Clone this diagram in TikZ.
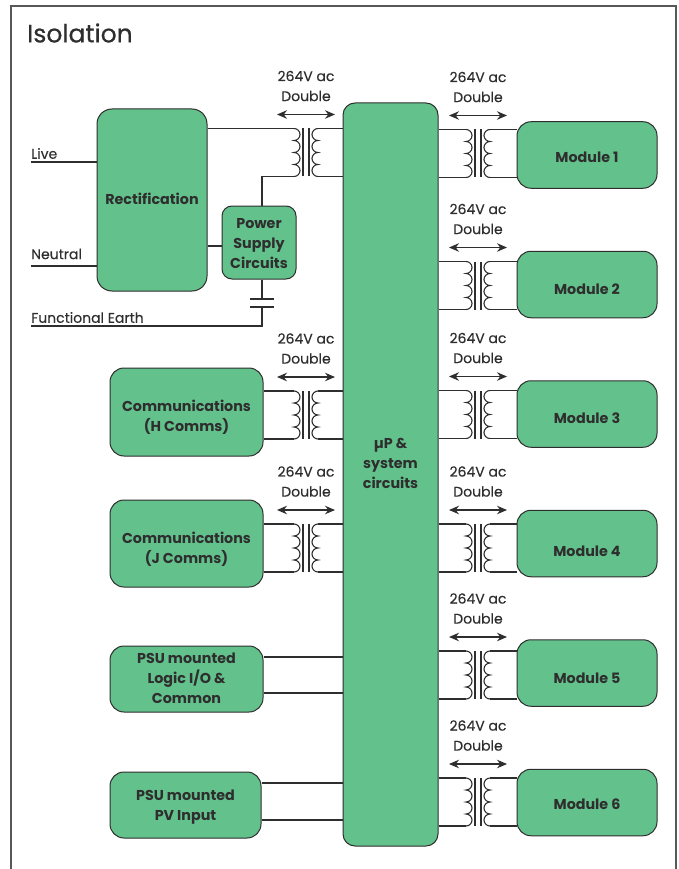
\documentclass[tikz,border=0pt]{standalone}
\usepackage{fontspec}
\setmainfont{Poppins}
\newfontfamily\thickfont[FakeBold=0.25]{Poppins}
\newfontfamily\titlefont[FakeBold=0.6]{Poppins}
\usetikzlibrary{arrows.meta}
\definecolor{boxgreen}{HTML}{63C18C}
\definecolor{wire}{HTML}{2E2E2E}
\tikzset{
  block/.style={draw=wire, fill=boxgreen, line width=1pt, inner sep=0pt},
  txt/.style={font=\fontsize{14.3}{20}\selectfont\bfseries, text=wire, inner sep=0pt, align=center},
  lbl/.style={font=\fontsize{14}{20}\thickfont, text=wire, inner sep=0pt, align=center},
  conn/.style={draw=wire, line width=1.1pt},
  xfmr/.pic={
    \coordinate (-nw) at (-12,-24);
    \coordinate (-sw) at (-12,24);
    \coordinate (-ne) at (12,-24);
    \coordinate (-se) at (12,24);
    \draw[conn] (-nw) arc (-90:90:6) arc (-90:90:6) arc (-90:90:6) arc (-90:90:6);
    \draw[conn] (-ne) arc (270:90:6) arc (270:90:6) arc (270:90:6) arc (270:90:6);
    \draw[conn] (-3,-24) -- (-3,24);
    \draw[conn] (3,-24) -- (3,24);
    \draw[conn, {Stealth[length=10pt,width=8.5pt]}-{Stealth[length=10pt,width=8.5pt]}] (-29,-38) -- (29,-38);
    \node[lbl] (-volt) at (0,-76.5) {264V ac};
    \node[lbl] (-kind) at (0,-56.5) {Double};
  }
}

\begin{document}
\begin{tikzpicture}[x=1pt,y=-1pt]
\useasboundingbox (0,0) rectangle (678,869);
\draw[draw=wire!80, line width=1.2pt] (11,869) -- (11,6) -- (676,6) -- (676,869);
\node[anchor=west, inner sep=0pt, font=\fontsize{25}{30}\titlefont, text=wire] (title) at (27,33) {Isolation};

% main blocks
\node[block, minimum width=95, minimum height=743, rounded corners=12, label={[txt, yshift=11pt]center:µP \&\\system\\circuits}] (cpu) at (390.5,474.5) {};
\node[block, minimum width=110, minimum height=182, rounded corners=15, label={[txt, yshift=1.5pt]center:Rectification}] (rect) at (152,200) {};
\node[block, minimum width=74, minimum height=73, rounded corners=10, label={[txt, yshift=-1.5pt]center:Power\\Supply\\Circuits}] (psc) at (259,242.5) {};
\node[block, minimum width=153, minimum height=88, rounded corners=14, label={[txt, yshift=-5pt]center:Communications\\(H Comms)}] (hcomms) at (186.5,412) {};
\node[block, minimum width=153, minimum height=87, rounded corners=14, label={[txt, yshift=-6pt]center:Communications\\(J Comms)}] (jcomms) at (186.5,543.5) {};
\node[block, minimum width=153, minimum height=66, rounded corners=14, label={[txt, yshift=1pt]center:PSU mounted\\Logic I/O \&\\Common}] (logic) at (186.5,679) {};
\node[block, minimum width=151, minimum height=66, rounded corners=14, label={[txt, yshift=-2pt]center:PSU mounted\\PV Input}] (pv) at (185.5,805) {};

% modules and their transformers
\foreach \i/\ym/\yt/\dy in {1/155/153.5/2,2/284.5/285.5/4.5,3/414/414.5/4,4/543.5/548/7.5,5/673/675/5,6/802.5/802/2}{
  \node[block, minimum width=140, minimum height=66.5, rounded corners=14, label={[txt, yshift=-\dy pt]center:Module \i}] (mod\i) at (587,\ym) {};
  \pic (xr\i) at (478,\yt) {xfmr};
  \draw[conn] (cpu.east |- xr\i-nw) -- (xr\i-nw) (xr\i-ne) -- (mod\i.west |- xr\i-ne);
  \draw[conn] (cpu.east |- xr\i-sw) -- (xr\i-sw) (xr\i-se) -- (mod\i.west |- xr\i-se);
}

% left side transformers
\pic (xmain) at (306,152.5) {xfmr};
\pic (xh) at (306,415) {xfmr};
\pic (xj) at (306,548) {xfmr};
\foreach \a/\t in {rect/xmain,hcomms/xh,jcomms/xj}{
  \draw[conn] (\a.east |- \t-nw) -- (\t-nw) (\t-ne) -- (cpu.west |- \t-ne);
  \draw[conn] (\t-se) -- (cpu.west |- \t-se);
}
\draw[conn] (hcomms.east |- xh-sw) -- (xh-sw);
\draw[conn] (jcomms.east |- xj-sw) -- (xj-sw);
\draw[conn] (xmain-sw) -| (psc.north -| 262,0);

% plain wires
\draw[conn] (logic.east |- 0,657) -- (cpu.west |- 0,657);
\draw[conn] (logic.east |- 0,693) -- (cpu.west |- 0,693);
\draw[conn] (pv.east |- 0,783) -- (cpu.west |- 0,783);
\draw[conn] (pv.east |- 0,820) -- (cpu.west |- 0,820);
\draw[conn] (rect.east |- 0,246) -- (psc.west |- 0,246);

% mains input
\coordinate (live) at (31,162);
\coordinate (neut) at (31,266);
\coordinate (earth) at (31,326);
\coordinate (capa) at (262,299);
\coordinate (capb) at (262,307);
\node[lbl, anchor=west] (livetxt) at (31,153.5) {Live};
\node[lbl, anchor=west] (neuttxt) at (31,254) {Neutral};
\node[lbl, anchor=west] (earthtxt) at (31,317.5) {Functional Earth};
\draw[conn] (live) -- (rect.west |- live);
\draw[conn] (neut) -- (rect.west |- neut);
\draw[conn] (earth) -| (capb);
\draw[conn] (psc.south -| capa) -- (capa);
\draw[conn, line width=1.6pt] ([xshift=-12pt]capa) -- ([xshift=12pt]capa);
\draw[conn, line width=1.6pt] ([xshift=-12pt]capb) -- ([xshift=12pt]capb);
\end{tikzpicture}
\end{document}
